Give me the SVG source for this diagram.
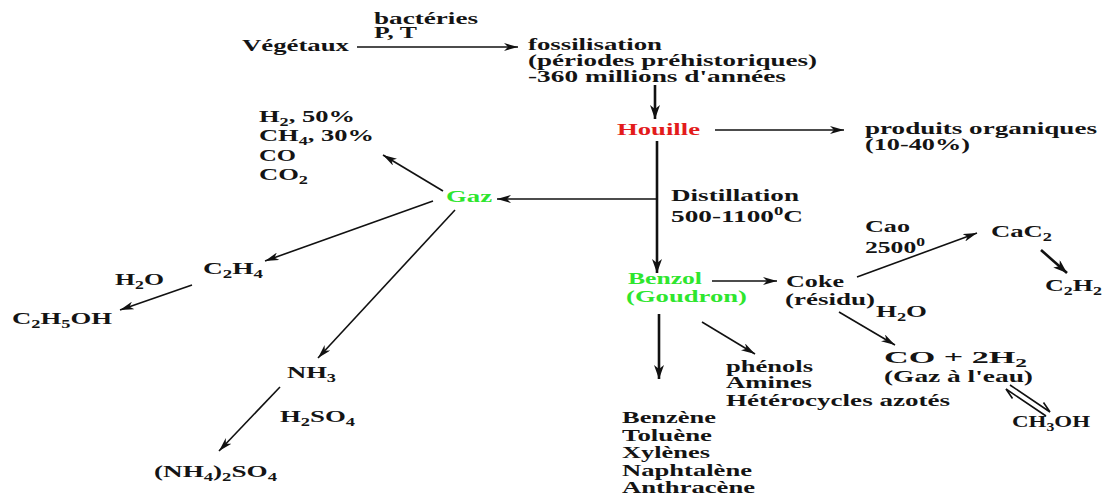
<svg xmlns="http://www.w3.org/2000/svg" width="1110" height="496" viewBox="0 0 1110 496">
<style>
text{font-family:"Liberation Serif","Times New Roman",serif;font-weight:bold;font-size:17.5px;fill:#141414}
.red{fill:#e31b1b}
.green{fill:#2ee62e}
.sub{font-size:12px}
.ln{stroke:#111;stroke-width:1.6;fill:none}
.thick{stroke:#111;stroke-width:2.6;fill:none}
</style>
<defs>
<marker id="ah" viewBox="0 0 14 8" refX="14" refY="4" markerWidth="14" markerHeight="8" markerUnits="userSpaceOnUse" orient="auto">
<path d="M0,0 L14,4 L0,8 L4,4 z" fill="#111"/>
</marker>
<marker id="ahb" viewBox="0 0 14 10" refX="14" refY="5" markerWidth="14" markerHeight="10" markerUnits="userSpaceOnUse" orient="auto">
<path d="M0,0 L14,5 L0,10 L4,5 z" fill="#111"/>
</marker>
</defs>
<rect width="1110" height="496" fill="#fff"/>

<g id="connectors">
<line class="ln" x1="357" y1="47" x2="518" y2="47" marker-end="url(#ah)"/>
<line class="thick" x1="655" y1="85" x2="655" y2="119" marker-end="url(#ahb)"/>
<line class="ln" x1="715" y1="130" x2="844" y2="130" marker-end="url(#ah)"/>
<line class="thick" x1="657" y1="141" x2="657" y2="273" marker-end="url(#ahb)"/>
<line class="ln" x1="657" y1="199" x2="497" y2="199" marker-end="url(#ah)"/>
<line class="ln" x1="443" y1="191" x2="383" y2="155" marker-end="url(#ah)"/>
<line class="ln" x1="433" y1="201" x2="265" y2="261" marker-end="url(#ah)"/>
<line class="ln" x1="192" y1="285" x2="120" y2="310" marker-end="url(#ah)"/>
<line class="ln" x1="455" y1="210" x2="318" y2="358" marker-end="url(#ah)"/>
<line class="ln" x1="280" y1="387" x2="219" y2="451" marker-end="url(#ah)"/>
<line class="ln" x1="712" y1="281" x2="777" y2="281" marker-end="url(#ah)"/>
<line class="ln" x1="857" y1="277" x2="977" y2="233" marker-end="url(#ah)"/>
<line class="thick" x1="1041" y1="250" x2="1067" y2="273" marker-end="url(#ahb)"/>
<line class="ln" x1="839" y1="312" x2="895" y2="345" marker-end="url(#ah)"/>
<line class="ln" x1="702" y1="322" x2="755" y2="354" marker-end="url(#ah)"/>
<line class="thick" x1="659" y1="314" x2="659" y2="379" marker-end="url(#ahb)"/>
<polyline class="ln" points="1010,385 1050,412 1043.5,402.5"/>
<polyline class="ln" points="1046,416 1006,389 1012.5,398.5"/>
</g>

<g id="vegetaux"><text x="242" y="51" textLength="107" lengthAdjust="spacingAndGlyphs">Végétaux</text></g>
<g id="cond-bacteries">
<text x="374" y="24" textLength="104" lengthAdjust="spacingAndGlyphs">bactéries</text>
<text x="374" y="38" textLength="43" lengthAdjust="spacingAndGlyphs">P, T</text>
</g>
<g id="fossilisation">
<text x="528" y="50" textLength="134" lengthAdjust="spacingAndGlyphs">fossilisation</text>
<text x="528" y="66" textLength="289" lengthAdjust="spacingAndGlyphs">(périodes préhistoriques)</text>
<text x="528" y="82" textLength="258" lengthAdjust="spacingAndGlyphs">-360 millions d'années</text>
</g>
<g id="houille"><text class="red" x="617" y="135" textLength="83" lengthAdjust="spacingAndGlyphs">Houille</text></g>
<g id="produits">
<text x="865" y="134" textLength="232" lengthAdjust="spacingAndGlyphs">produits organiques</text>
<text x="865" y="150" textLength="105" lengthAdjust="spacingAndGlyphs">(10-40%)</text>
</g>
<g id="distillation">
<text x="671" y="201" textLength="128" lengthAdjust="spacingAndGlyphs">Distillation</text>
<text x="671" y="222" textLength="132" lengthAdjust="spacingAndGlyphs">500-1100<tspan class="sub" dy="-7">0</tspan><tspan dy="7">C</tspan></text>
</g>
<g id="gaz"><text class="green" x="446" y="202" textLength="46" lengthAdjust="spacingAndGlyphs">Gaz</text></g>
<g id="gaz-composition">
<text x="259" y="122" textLength="96" lengthAdjust="spacingAndGlyphs">H<tspan class="sub" dy="4">2</tspan><tspan dy="-4">, 50%</tspan></text>
<text x="259" y="141" textLength="115" lengthAdjust="spacingAndGlyphs">CH<tspan class="sub" dy="4">4</tspan><tspan dy="-4">, 30%</tspan></text>
<text x="259" y="161" textLength="37" lengthAdjust="spacingAndGlyphs">CO</text>
<text x="259" y="180" textLength="49" lengthAdjust="spacingAndGlyphs">CO<tspan class="sub" dy="4">2</tspan></text>
</g>
<g id="c2h4"><text x="203" y="274" textLength="60" lengthAdjust="spacingAndGlyphs">C<tspan class="sub" dy="4">2</tspan><tspan dy="-4">H</tspan><tspan class="sub" dy="4">4</tspan></text></g>
<g id="h2o-left"><text x="115" y="285" textLength="49" lengthAdjust="spacingAndGlyphs">H<tspan class="sub" dy="4">2</tspan><tspan dy="-4">O</tspan></text></g>
<g id="c2h5oh"><text x="12" y="324" textLength="100" lengthAdjust="spacingAndGlyphs">C<tspan class="sub" dy="4">2</tspan><tspan dy="-4">H</tspan><tspan class="sub" dy="4">5</tspan><tspan dy="-4">OH</tspan></text></g>
<g id="nh3"><text x="287" y="378" textLength="49" lengthAdjust="spacingAndGlyphs">NH<tspan class="sub" dy="4">3</tspan></text></g>
<g id="h2so4"><text x="280" y="422" textLength="75" lengthAdjust="spacingAndGlyphs">H<tspan class="sub" dy="4">2</tspan><tspan dy="-4">SO</tspan><tspan class="sub" dy="4">4</tspan></text></g>
<g id="nh4so4"><text x="154" y="477" textLength="123" lengthAdjust="spacingAndGlyphs">(NH<tspan class="sub" dy="4">4</tspan><tspan dy="-4">)</tspan><tspan class="sub" dy="4">2</tspan><tspan dy="-4">SO</tspan><tspan class="sub" dy="4">4</tspan></text></g>
<g id="benzol">
<text class="green" x="628" y="284" textLength="74" lengthAdjust="spacingAndGlyphs">Benzol</text>
<text class="green" x="626" y="302" textLength="121" lengthAdjust="spacingAndGlyphs">(Goudron)</text>
</g>
<g id="coke">
<text x="786" y="287" textLength="58" lengthAdjust="spacingAndGlyphs">Coke</text>
<text x="785" y="305" textLength="90" lengthAdjust="spacingAndGlyphs">(résidu)</text>
</g>
<g id="cond-cao">
<text x="865" y="232" textLength="45" lengthAdjust="spacingAndGlyphs">Cao</text>
<text x="865" y="253" textLength="60" lengthAdjust="spacingAndGlyphs">2500<tspan class="sub" dy="-7">0</tspan></text>
</g>
<g id="cac2"><text x="991" y="237" textLength="61" lengthAdjust="spacingAndGlyphs">CaC<tspan class="sub" dy="4">2</tspan></text></g>
<g id="c2h2"><text x="1045" y="291" textLength="57" lengthAdjust="spacingAndGlyphs">C<tspan class="sub" dy="4">2</tspan><tspan dy="-4">H</tspan><tspan class="sub" dy="4">2</tspan></text></g>
<g id="h2o-right"><text x="876" y="317" textLength="51" lengthAdjust="spacingAndGlyphs">H<tspan class="sub" dy="4">2</tspan><tspan dy="-4">O</tspan></text></g>
<g id="gaz-eau">
<text x="884" y="363" textLength="143" lengthAdjust="spacingAndGlyphs">CO + 2H<tspan class="sub" dy="4">2</tspan></text>
<text x="884" y="382" textLength="149" lengthAdjust="spacingAndGlyphs">(Gaz à l'eau)</text>
</g>
<g id="ch3oh"><text x="1012" y="427" textLength="78" lengthAdjust="spacingAndGlyphs">CH<tspan class="sub" dy="4">3</tspan><tspan dy="-4">OH</tspan></text></g>
<g id="phenols">
<text x="726" y="372" textLength="87" lengthAdjust="spacingAndGlyphs">phénols</text>
<text x="726" y="388" textLength="86" lengthAdjust="spacingAndGlyphs">Amines</text>
<text x="726" y="406" textLength="224" lengthAdjust="spacingAndGlyphs">Hétérocycles azotés</text>
</g>
<g id="aromatiques">
<text x="622" y="423" textLength="94" lengthAdjust="spacingAndGlyphs">Benzène</text>
<text x="622" y="441" textLength="90" lengthAdjust="spacingAndGlyphs">Toluène</text>
<text x="622" y="458" textLength="88" lengthAdjust="spacingAndGlyphs">Xylènes</text>
<text x="622" y="476" textLength="130" lengthAdjust="spacingAndGlyphs">Naphtalène</text>
<text x="622" y="493" textLength="133" lengthAdjust="spacingAndGlyphs">Anthracène</text>
</g>
</svg>
